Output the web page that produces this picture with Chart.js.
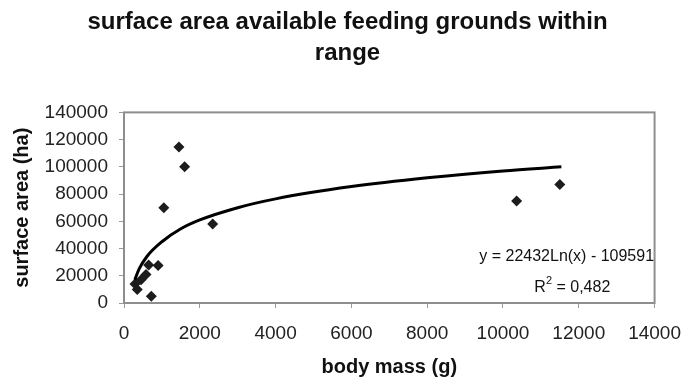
<!DOCTYPE html>
<html>
<head>
<meta charset="utf-8">
<script src="https://cdn.jsdelivr.net/npm/chart.js@4/dist/chart.umd.min.js"></script>
<style>
  html, body { margin: 0; padding: 0; background: #fff; }
  canvas { display: block; }
</style>
</head>
<body>
<canvas id="chart" width="695" height="379"></canvas>
<script>
'use strict';

// measured points: body mass (g) vs surface area (ha)
const bodyMass = [290, 350, 450, 580, 650, 720, 900, 1050, 1450, 1600, 2340, 10360, 11500];
const surfaceArea = [14000, 10000, 17000, 21000, 28000, 5000, 27500, 70000, 114500, 100000, 58000, 75000, 87000];

// logarithmic trendline
const trendX = [285, 400, 600, 1000, 1500, 2000, 3000, 4000, 6000, 8000, 10000, 11540];
const trendY = [17000, 25000, 34000, 45000, 54500, 61000, 70000, 76500, 85500, 92000, 97000, 100000];

const xTicks = [0, 2000, 4000, 6000, 8000, 10000, 12000, 14000];
const yTicks = [0, 20000, 40000, 60000, 80000, 100000, 120000, 140000];

const titleLines = ['surface area available feeding grounds within', 'range'];
const equationText = 'y = 22432Ln(x) - 109591';
const rSquaredText = '0,482';

const FONT = '"Liberation Sans", Arial, sans-serif';

// draw box round the plot area and the equation label
const plotExtras = {
    id: 'plotExtras',
    afterDatasetsDraw(chart) {
        const ctx = chart.ctx;
        const a = chart.chartArea;
        ctx.save();
        ctx.strokeStyle = '#8e8e8e';
        ctx.lineWidth = 2;
        ctx.strokeRect(a.left, a.top, a.right - a.left, a.bottom - a.top);

        const xs = chart.scales.x, ys = chart.scales.y;
        ctx.fillStyle = '#111';
        ctx.font = '16px ' + FONT;
        ctx.textAlign = 'center';
        ctx.textBaseline = 'middle';
        ctx.fillText(equationText, xs.getPixelForValue(11680), ys.getPixelForValue(34000));

        // R² with superscript 2
        const cx = xs.getPixelForValue(11830);
        const y2 = ys.getPixelForValue(11500);
        const left = 'R', right = ' = ' + rSquaredText;
        const wL = ctx.measureText(left).width;
        const wR = ctx.measureText(right).width;
        ctx.font = '11px ' + FONT;
        const wS = ctx.measureText('2').width;
        let x0 = cx - (wL + wS + wR) / 2;
        ctx.textAlign = 'left';
        ctx.font = '16px ' + FONT;
        ctx.fillText(left, x0, y2);
        ctx.font = '11px ' + FONT;
        ctx.fillText('2', x0 + wL, y2 - 6);
        ctx.font = '16px ' + FONT;
        ctx.fillText(right, x0 + wL + wS, y2);
        ctx.restore();
    }
};

const scatterData = bodyMass.map((m, i) => ({x: m, y: surfaceArea[i]}));
const trendData = trendX.map((m, i) => ({x: m, y: trendY[i]}));

new Chart(document.getElementById('chart').getContext('2d'), {
    type: 'scatter',
    data: {
        datasets: [{
            label: 'surface area',
            data: scatterData,
            pointStyle: 'rectRot',
            pointRadius: 5.5,
            pointHoverRadius: 5.5,
            backgroundColor: '#1c1c1c',
            borderColor: '#1c1c1c',
            borderWidth: 0,
            order: 2
        }, {
            label: 'trend',
            data: trendData,
            showLine: true,
            pointRadius: 0,
            borderColor: '#000',
            borderWidth: 3,
            cubicInterpolationMode: 'monotone',
            fill: false,
            order: 1
        }]
    },
    options: {
        responsive: false,
        animation: false,
        devicePixelRatio: 1,
        layout: { padding: 0 },
        plugins: {
            legend: { display: false },
            tooltip: { enabled: false },
            title: {
                display: true,
                text: titleLines,
                color: '#111',
                font: { family: FONT, size: 24, weight: 'bold', lineHeight: 1.3 },
                padding: { top: 7, bottom: 43 }
            }
        },
        scales: {
            x: {
                type: 'linear',
                min: 0,
                max: 14000,
                afterBuildTicks: s => { s.ticks = xTicks.map(v => ({value: v})); },
                afterFit: s => { s.height = 76; },
                grid: { drawOnChartArea: false, tickLength: 5, color: '#9a9a9a', lineWidth: 1 },
                border: { display: false },
                ticks: {
                    color: '#222',
                    font: { family: FONT, size: 19 },
                    padding: 14,
                    maxRotation: 0,
                    callback: v => String(v)
                },
                title: {
                    display: true,
                    text: 'body mass (g)',
                    color: '#111',
                    font: { family: FONT, size: 20, weight: 'bold', lineHeight: 1.2 },
                    padding: { top: 0, bottom: 0 }
                }
            },
            y: {
                type: 'linear',
                min: 0,
                max: 140000,
                afterBuildTicks: s => { s.ticks = yTicks.map(v => ({value: v})); },
                afterFit: s => { s.width = 124; },
                grid: { drawOnChartArea: false, tickLength: 5, color: '#9a9a9a', lineWidth: 1 },
                border: { display: false },
                ticks: {
                    color: '#222',
                    font: { family: FONT, size: 19 },
                    padding: 11,
                    callback: v => String(v)
                },
                title: {
                    display: true,
                    text: 'surface area (ha)',
                    color: '#111',
                    font: { family: FONT, size: 20, weight: 'bold', lineHeight: 1.2 },
                    padding: { top: 10, bottom: 0 }
                }
            },
            // empty right-hand strip so the title stays centred on the page
            yRight: {
                type: 'linear',
                position: 'right',
                min: 0,
                max: 140000,
                afterFit: s => { s.width = 29; },
                grid: { display: false },
                border: { display: false },
                ticks: { display: false }
            }
        }
    },
    plugins: [plotExtras]
});
</script>
</body>
</html>
